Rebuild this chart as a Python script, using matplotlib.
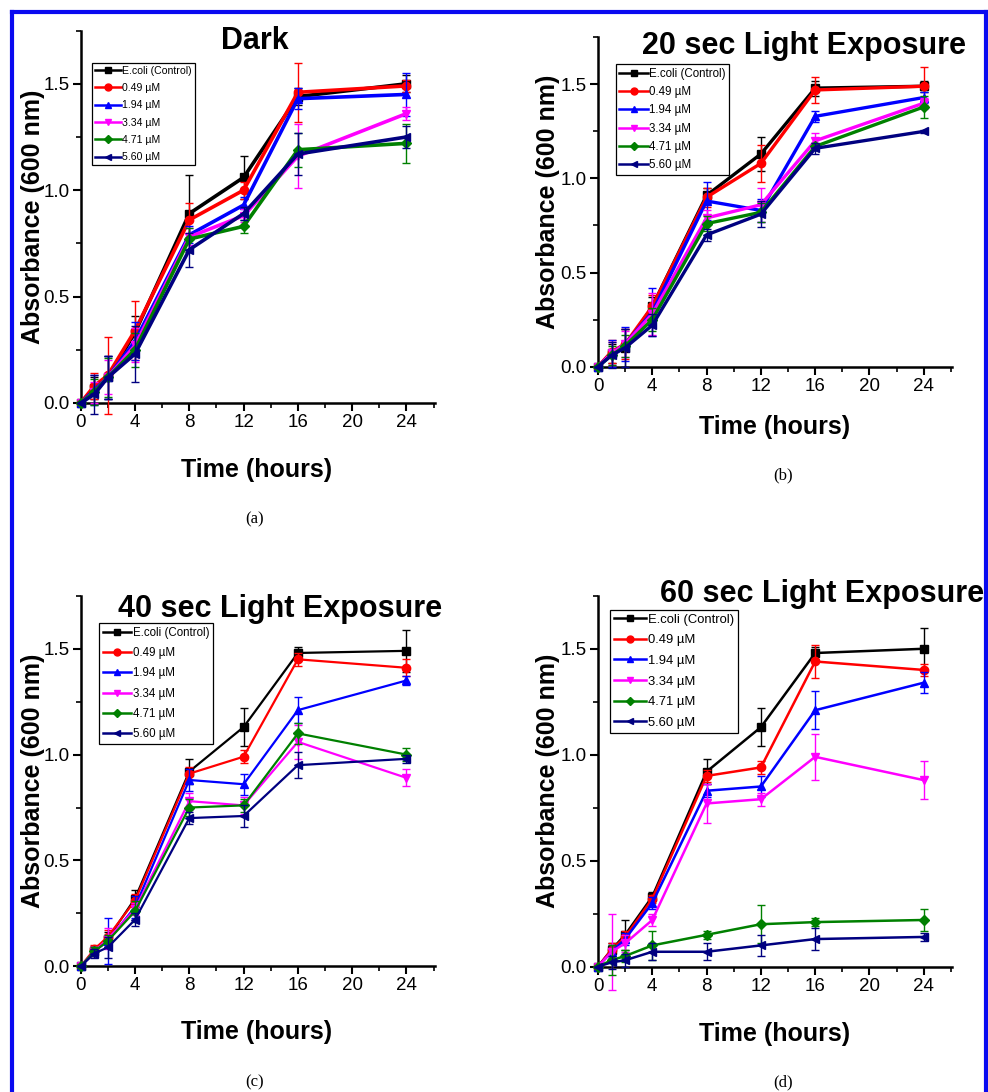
import matplotlib
matplotlib.use("Agg")
import matplotlib.pyplot as plt
from matplotlib.lines import Line2D
from matplotlib.ticker import MultipleLocator

plt.rcParams["font.family"] = ["Liberation Sans", "DejaVu Sans"]

# ---------------------------------------------------------------------------
# data
# ---------------------------------------------------------------------------
hours = [0, 1, 2, 4, 8, 12, 16, 24]
series_labels = ["E.coli (Control)", "0.49 µM", "1.94 µM",
                 "3.34 µM", "4.71 µM", "5.60 µM"]
titles = ["Dark", "20 sec Light Exposure",
          "40 sec Light Exposure", "60 sec Light Exposure"]
panel_tags = ["(a)", "(b)", "(c)", "(d)"]

dark_mean = [
    [0, 0.07, 0.12, 0.33, 0.89, 1.06, 1.44, 1.50],
    [0, 0.08, 0.13, 0.34, 0.86, 1.00, 1.46, 1.49],
    [0, 0.06, 0.12, 0.29, 0.79, 0.93, 1.43, 1.45],
    [0, 0.05, 0.12, 0.27, 0.78, 0.88, 1.16, 1.36],
    [0, 0.05, 0.12, 0.25, 0.77, 0.83, 1.19, 1.22],
    [0, 0.04, 0.12, 0.23, 0.72, 0.89, 1.17, 1.25],
]
dark_err = [
    [0, 0.05, 0.10, 0.08, 0.18, 0.10, 0.04, 0.04],
    [0, 0.06, 0.18, 0.14, 0.08, 0.04, 0.14, 0.03],
    [0, 0.07, 0.10, 0.09, 0.04, 0.04, 0.05, 0.10],
    [0, 0.05, 0.08, 0.08, 0.04, 0.03, 0.15, 0.03],
    [0, 0.06, 0.09, 0.08, 0.05, 0.03, 0.08, 0.09],
    [0, 0.09, 0.10, 0.13, 0.08, 0.03, 0.10, 0.05],
]

light20_mean = [
    [0, 0.07, 0.10, 0.32, 0.91, 1.13, 1.48, 1.49],
    [0, 0.08, 0.12, 0.32, 0.90, 1.08, 1.47, 1.49],
    [0, 0.07, 0.12, 0.29, 0.88, 0.83, 1.33, 1.43],
    [0, 0.07, 0.12, 0.28, 0.79, 0.86, 1.20, 1.40],
    [0, 0.06, 0.11, 0.25, 0.76, 0.82, 1.17, 1.38],
    [0, 0.06, 0.10, 0.22, 0.70, 0.81, 1.16, 1.25],
]
light20_err = [
    [0, 0.05, 0.10, 0.05, 0.04, 0.09, 0.04, 0.03],
    [0, 0.06, 0.08, 0.06, 0.05, 0.10, 0.07, 0.10],
    [0, 0.07, 0.09, 0.13, 0.10, 0.06, 0.03, 0.03],
    [0, 0.06, 0.07, 0.11, 0.04, 0.09, 0.04, 0.03],
    [0, 0.05, 0.06, 0.06, 0.04, 0.05, 0.02, 0.06],
    [0, 0.07, 0.10, 0.06, 0.03, 0.07, 0.03, 0.01],
]

light40_mean = [
    [0, 0.07, 0.13, 0.32, 0.92, 1.13, 1.48, 1.49],
    [0, 0.08, 0.14, 0.31, 0.91, 0.99, 1.45, 1.41],
    [0, 0.07, 0.12, 0.28, 0.88, 0.86, 1.21, 1.35],
    [0, 0.07, 0.13, 0.27, 0.78, 0.76, 1.06, 0.89],
    [0, 0.07, 0.12, 0.26, 0.75, 0.76, 1.10, 1.00],
    [0, 0.06, 0.09, 0.22, 0.70, 0.71, 0.95, 0.98],
]
light40_err = [
    [0, 0.02, 0.03, 0.04, 0.06, 0.09, 0.03, 0.10],
    [0, 0.02, 0.03, 0.03, 0.03, 0.03, 0.03, 0.04],
    [0, 0.02, 0.11, 0.05, 0.05, 0.05, 0.06, 0.02],
    [0, 0.02, 0.05, 0.03, 0.04, 0.04, 0.08, 0.04],
    [0, 0.02, 0.03, 0.05, 0.04, 0.03, 0.05, 0.03],
    [0, 0.02, 0.05, 0.03, 0.03, 0.05, 0.06, 0.02],
]

light60_mean = [
    [0, 0.08, 0.15, 0.33, 0.92, 1.13, 1.48, 1.50],
    [0, 0.08, 0.14, 0.32, 0.90, 0.94, 1.44, 1.40],
    [0, 0.07, 0.13, 0.30, 0.83, 0.85, 1.21, 1.34],
    [0, 0.07, 0.11, 0.22, 0.77, 0.79, 0.99, 0.88],
    [0, 0.03, 0.05, 0.10, 0.15, 0.20, 0.21, 0.22],
    [0, 0.02, 0.03, 0.07, 0.07, 0.10, 0.13, 0.14],
]
light60_err = [
    [0, 0.03, 0.07, 0.02, 0.06, 0.09, 0.03, 0.10],
    [0, 0.03, 0.03, 0.02, 0.03, 0.03, 0.08, 0.03],
    [0, 0.03, 0.03, 0.03, 0.03, 0.05, 0.09, 0.05],
    [0, 0.18, 0.04, 0.03, 0.09, 0.03, 0.11, 0.09],
    [0, 0.07, 0.03, 0.07, 0.02, 0.09, 0.02, 0.05],
    [0, 0.03, 0.03, 0.04, 0.04, 0.05, 0.05, 0.02],
]

# ---------------------------------------------------------------------------
# styling / layout (pixel positions on a 988 x 1092 canvas)
# ---------------------------------------------------------------------------
colors = ["#000000", "#FF0000", "#0000FF", "#FF00FF", "#008000", "#000080"]
markers = ["s", "o", "^", "v", "D", "<"]

W, H = 988, 1092

def fx(x):
    return x / W

def fy(y):
    return 1 - y / H

# left, top, right, bottom of each axes box in px
boxes = [(80.7, 30.6, 435.0, 402.9),
         (598.0, 37.3, 952.3, 366.6),
         (80.7, 595.8, 435.0, 966.3),
         (598.0, 595.8, 952.3, 966.6)]
title_pos = [(255, 48.7), (804, 54.0), (280, 617.4), (822, 601.7)]
xlabel_pos = [(257, 477), (775, 434), (257, 1039), (775, 1041)]
ylabel_x = [45, 560, 45, 560]   # right edge of the rotated y label
tag_pos = [(255, 519), (783, 475), (255, 1082), (783, 1082)]
legend_anchor = [(0.031, 0.914), (0.050, 0.918), (0.052, 0.926), (0.033, 0.9625)]
legend_size = [7.6, 8.3, 8.3, 9.4]
legend_spacing = [0.69, 0.55, 0.72, 0.65]
line_w = [2.6, 2.4, 1.6, 1.8]

means = [dark_mean, light20_mean, light40_mean, light60_mean]
errs = [dark_err, light20_err, light40_err, light60_err]

fig = plt.figure(figsize=(W / 100, H / 100), dpi=100)

for p in range(4):
    l, t, r, b = boxes[p]
    ax = fig.add_axes([fx(l), fy(b), (r - l) / W, (b - t) / H])

    handles = []
    for i in range(6):
        ms = 6 if markers[i] != "D" else 5
        ax.errorbar(hours, means[p][i], yerr=errs[p][i], color=colors[i],
                    marker=markers[i], ms=ms, lw=line_w[p], elinewidth=1,
                    capsize=3, capthick=1, clip_on=False, zorder=3 + i)
        handles.append(Line2D([], [], color=colors[i], marker=markers[i],
                              ms=ms - 1, lw=1.8))

    ax.set_xlim(0, 26.1)
    ax.set_ylim(0, 1.75)
    ax.xaxis.set_major_locator(MultipleLocator(4))
    ax.xaxis.set_minor_locator(MultipleLocator(2))
    ax.yaxis.set_major_locator(MultipleLocator(0.5))
    ax.yaxis.set_minor_locator(MultipleLocator(0.25))
    ax.yaxis.set_major_formatter(plt.FormatStrFormatter("%.1f"))
    ax.spines["top"].set_visible(False)
    ax.spines["right"].set_visible(False)
    for s in ("left", "bottom"):
        ax.spines[s].set_linewidth(1.8)
    ax.tick_params(which="major", direction="out", length=6, width=1.5,
                   labelsize=13.5, pad=2)
    ax.tick_params(which="minor", direction="out", length=3.5, width=1.2)

    ax.set_ylabel("Absorbance (600 nm)", fontsize=18, fontweight="bold")
    ax.yaxis.set_label_coords((ylabel_x[p] - l) / (r - l), 0.5)

    leg = ax.legend(handles, series_labels, loc="upper left",
                    bbox_to_anchor=legend_anchor[p], borderaxespad=0,
                    fontsize=legend_size[p], fancybox=False, framealpha=1,
                    edgecolor="black", handlelength=2.5, handletextpad=0.1,
                    labelspacing=legend_spacing[p], borderpad=0.3)
    leg.get_frame().set_linewidth(0.9)

    fig.text(fx(title_pos[p][0]), fy(title_pos[p][1]), titles[p],
             fontsize=22, fontweight="bold", ha="center", va="baseline")
    fig.text(fx(xlabel_pos[p][0]), fy(xlabel_pos[p][1]), "Time (hours)",
             fontsize=18, fontweight="bold", ha="center", va="baseline")
    fig.text(fx(tag_pos[p][0]), fy(tag_pos[p][1]), panel_tags[p],
             fontsize=12, family="Liberation Serif", ha="center", va="center")

# blue frame round the figure (open at the bottom)
blue = "#0a0af0"
fig.add_artist(Line2D([fx(12), fx(986)], [fy(12), fy(12)], color=blue, lw=3))
fig.add_artist(Line2D([fx(12), fx(12)], [fy(12), 0], color=blue, lw=3))
fig.add_artist(Line2D([fx(986), fx(986)], [fy(12), 0], color=blue, lw=3))

fig.savefig("out.png", dpi=100)
